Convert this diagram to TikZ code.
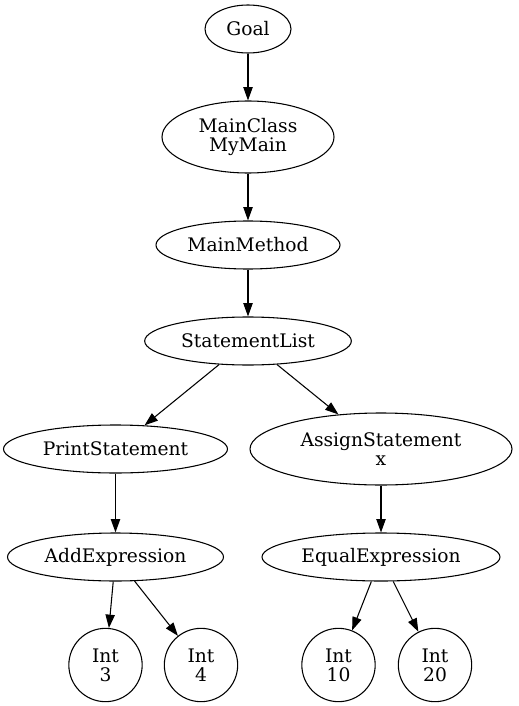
\documentclass[tikz,border=0pt]{standalone}
\usepackage{fontspec}
\setmainfont{DejaVu Serif}
\usepackage{tikz}
\usetikzlibrary{arrows.meta,shapes.geometric}

\begin{document}
\begin{tikzpicture}[
x=0.75pt,y=-0.75pt,
font=\fontsize{14}{14.5}\selectfont,
tnode/.style={ellipse,draw,line width=0.8pt,inner sep=0pt,minimum height=36pt,align=center},
tall/.style={minimum height=54pt},
leaf/.style={circle,draw,line width=0.8pt,inner sep=0pt,minimum size=55pt,align=center},
link/.style={-{Triangle[length=10pt,width=7pt]},line width=0.8pt}]
    \useasboundingbox (0,0) rectangle (518,706);

    % Draw nodes
    \node[tnode,minimum width=64.5pt] (goal) at (248,29) {Goal};
    \node[tnode,tall,minimum width=129pt] (mainclass) at (248,137) {MainClass\\MyMain};
    \node[tnode,minimum width=138pt] (mainmethod) at (248,245) {MainMethod};
    \node[tnode,minimum width=155pt] (stmtlist) at (248,341) {StatementList};
    \node[tnode,minimum width=168pt] (print) at (115.5,449) {PrintStatement};
    \node[tnode,tall,minimum width=196.5pt] (assign) at (381,449) {AssignStatement\\x};
    \node[tnode,minimum width=162pt] (add) at (115.5,557) {AddExpression};
    \node[tnode,minimum width=178.5pt] (equal) at (381,557) {EqualExpression};
    \node[leaf] (int3) at (105.5,665) {Int\\3};
    \node[leaf] (int4) at (201,665) {Int\\4};
    \node[leaf] (int10) at (338.5,665) {Int\\10};
    \node[leaf] (int20) at (435,665) {Int\\20};

    % Draw edges
    \draw[link] (goal) -- (mainclass);
    \draw[link] (mainclass) -- (mainmethod);
    \draw[link] (mainmethod) -- (stmtlist);
    \draw[link] (stmtlist) -- (print);
    \draw[link] (stmtlist) -- (assign);
    \draw[link] (print) -- (add);
    \draw[link] (assign) -- (equal);
    \draw[link] (add) -- (int3);
    \draw[link] (add) -- (int4);
    \draw[link] (equal) -- (int10);
    \draw[link] (equal) -- (int20);

\end{tikzpicture}
\end{document}
